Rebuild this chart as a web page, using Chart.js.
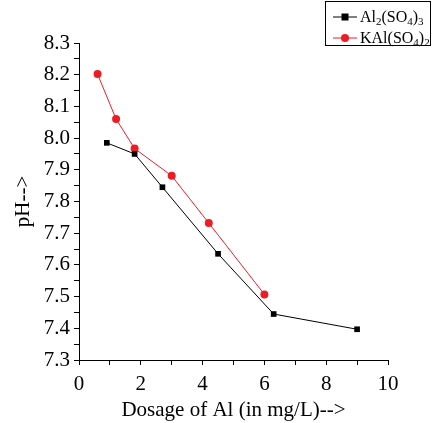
<!DOCTYPE html>
<html>
<head>
<meta charset="utf-8">
<script src="https://cdn.jsdelivr.net/npm/chart.js@4"></script>
<style>
  html, body { margin: 0; padding: 0; background: #fff; }
  #wrap { width: 434px; height: 423px; }
</style>
</head>
<body>
<div id="wrap"><canvas id="chart" width="434" height="423"></canvas></div>
<script>
// dosage of Al (mg/L) and measured pH
const alSulfateX = [0.9, 1.8, 2.7, 4.5, 6.3, 9.0];
const alSulfatePH = [7.985, 7.95, 7.845, 7.635, 7.445, 7.397];
const alumX = [0.6, 1.2, 1.8, 3.0, 4.2, 6.0];
const alumPH = [8.202, 8.06, 7.967, 7.881, 7.732, 7.507];

// legend labels, split into [text, subscript] pieces
const alSulfateLabel = [['Al', false], ['2', true], ['(SO', false], ['4', true], [')', false], ['3', true]];
const alumLabel = [['KAl(SO', false], ['4', true], [')', false], ['2', true]];

const FONT = '"Liberation Serif", "Times New Roman", serif';

function toPoints(xs, ys) {
  return xs.map((x, i) => ({ x: x, y: ys[i] }));
}

// draws the boxed legend in the top right corner, with subscripts
const boxLegend = {
  id: 'boxLegend',
  afterDraw(chart) {
    let ctx = chart.ctx;
    ctx.save();
    ctx.strokeStyle = '#000';
    ctx.lineWidth = 1;
    ctx.strokeRect(325.5, 1.5, 105, 44);

    const rows = [
      { label: alSulfateLabel, color: '#000', style: 'rect', y: 17 },
      { label: alumLabel, color: '#ee1c25', style: 'circle', y: 38 }
    ];
    rows.forEach((r) => {
      ctx.strokeStyle = r.color;
      ctx.fillStyle = r.color;
      ctx.beginPath();
      ctx.moveTo(333, r.y);
      ctx.lineTo(357, r.y);
      ctx.stroke();
      if (r.style === 'rect') {
        ctx.fillRect(341.5, r.y - 3.5, 7, 7);
      } else {
        ctx.beginPath();
        ctx.arc(345, r.y, 4, 0, Math.PI * 2);
        ctx.fill();
      }
      ctx.fillStyle = '#000';
      ctx.textBaseline = 'alphabetic';
      let x = 360;
      r.label.forEach(([txt, sub]) => {
        ctx.font = (sub ? '11px ' : '16px ') + FONT;
        ctx.fillText(txt, x, r.y + (sub ? 8 : 5));
        x += ctx.measureText(txt).width;
      });
    });
    ctx.restore();
  }
};

let ctx = document.getElementById('chart').getContext('2d');
new Chart(ctx, {
  type: 'line',
  data: {
    datasets: [
      {
        label: 'Al2(SO4)3',
        data: toPoints(alSulfateX, alSulfatePH),
        borderColor: '#000',
        backgroundColor: '#000',
        borderWidth: 1,
        pointStyle: 'rect',
        pointRadius: 4,
        pointBorderWidth: 0,
        tension: 0
      },
      {
        label: 'KAl(SO4)2',
        data: toPoints(alumX, alumPH),
        borderColor: '#ee1c25',
        backgroundColor: '#ee1c25',
        borderWidth: 1,
        pointStyle: 'circle',
        pointRadius: 4,
        pointBorderWidth: 0,
        tension: 0
      }
    ]
  },
  options: {
    responsive: false,
    animation: false,
    layout: { padding: { top: 43, right: 46, left: 0, bottom: 0 } },
    plugins: {
      legend: { display: false },
      tooltip: { enabled: false }
    },
    scales: {
      x: {
        type: 'linear',
        min: 0,
        max: 10,
        afterFit: (s) => { s.height = 63; },
        border: { display: true, color: '#000', width: 1 },
        grid: { drawOnChartArea: false, drawTicks: true, tickLength: 5, color: '#000' },
        ticks: {
          stepSize: 1,
          autoSkip: false,
          maxRotation: 0,
          color: '#000',
          font: { family: FONT, size: 21 },
          padding: 7,
          callback: (v) => (v % 2 === 0 ? String(v) : '')
        },
        title: {
          display: true,
          text: 'Dosage of Al (in mg/L)-->',
          color: '#000',
          font: { family: FONT, size: 21 },
          padding: { top: 0, bottom: 0 }
        }
      },
      y: {
        min: 7.3,
        max: 8.3,
        afterFit: (s) => { s.width = 79; },
        border: { display: true, color: '#000', width: 1 },
        grid: { drawOnChartArea: false, drawTicks: true, tickLength: 5, color: '#000' },
        ticks: {
          stepSize: 0.05,
          autoSkip: false,
          color: '#000',
          font: { family: FONT, size: 21 },
          padding: 4,
          callback: (v, i) => (i % 2 === 0 ? v.toFixed(1) : '')
        },
        title: {
          display: true,
          text: 'pH-->',
          color: '#000',
          font: { family: FONT, size: 21 },
          padding: { top: 11, bottom: 0 }
        }
      }
    }
  },
  plugins: [boxLegend]
});
</script>
</body>
</html>
